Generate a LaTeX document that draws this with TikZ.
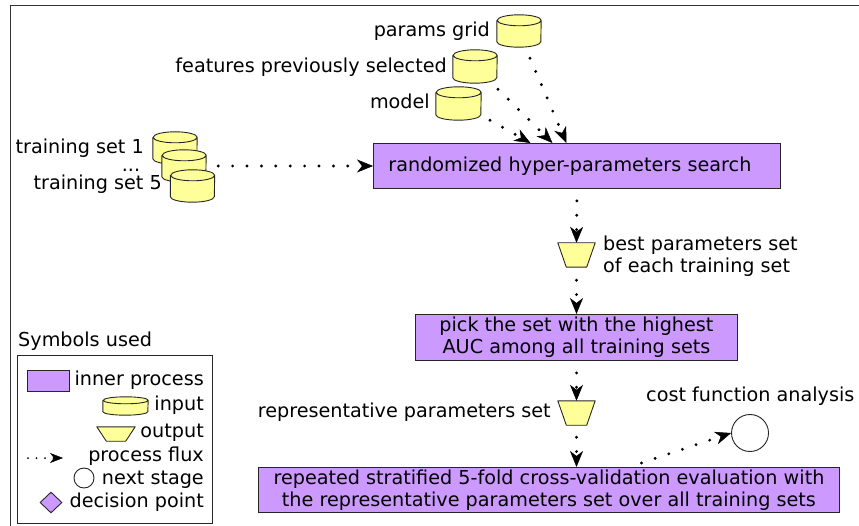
\documentclass[tikz,border=0pt]{standalone}
\usepackage{fontspec}
\setmainfont{DejaVu Sans}
\usetikzlibrary{arrows.meta,shapes.geometric,calc}
\definecolor{procfill}{HTML}{CC99FF}
\definecolor{inputfill}{HTML}{FFFF99}
\tikzset{
  lbl/.style={inner sep=0pt, text height=14pt, text depth=4pt},
  procbox/.style={draw=black!85, line width=0.9pt, fill=procfill, inner sep=0pt, align=center, anchor=north west},
  shapeline/.style={draw=black!85, line width=0.9pt},
  flux/.style={line width=3.2pt, line cap=round, dash pattern=on 0pt off 14.4pt,
    -{Stealth[length=16pt,width=13pt,inset=5pt,line width=0.5pt]}},
}
% #1 name, #2 x, #3 y, #4 width, #5 height, #6 ellipse y radius
\newcommand\dbcyl[6]{%
  \node[inner sep=0pt, minimum width=#4pt, minimum height=#5pt] (#1) at (#2,#3) {};
  \draw[shapeline, fill=inputfill]
    ([yshift=-#6pt]#1.north west) -- ([yshift=#6pt]#1.south west)
    arc[start angle=180, end angle=360, x radius={#4*0.5pt}, y radius=#6pt]
    -- ([yshift=-#6pt]#1.north east)
    arc[start angle=0, end angle=180, x radius={#4*0.5pt}, y radius=#6pt]
    arc[start angle=180, end angle=360, x radius={#4*0.5pt}, y radius=#6pt];
}
% #1 name, #2 x, #3 y, #4 top width, #5 height, #6 inset
\newcommand\outtrap[6]{%
  \node[inner sep=0pt, minimum width=#4pt, minimum height=#5pt] (#1) at (#2,#3) {};
  \draw[shapeline, fill=inputfill, line join=round]
    (#1.north west) -- (#1.north east) -- ([xshift=-#6pt]#1.south east)
    -- ([xshift=#6pt]#1.south west) -- cycle;
}
\begin{document}
\begin{tikzpicture}[x=1pt, y=-1pt, font=\fontsize{19.2}{22}\selectfont]
\useasboundingbox (0,0) rectangle (859,526);
\draw[line width=1pt, black!80] (10,6) rectangle (880,545);

% inputs at top
\node[lbl, anchor=east] (lpg) at (490,32) {params grid};
\node[lbl, anchor=east] (lfs) at (447,67.5) {features previously selected};
\node[lbl, anchor=east] (lmd) at (430,104) {model};
\dbcyl{pg}{519}{31}{44}{32}{5.5}
\dbcyl{fs}{475}{66.5}{44}{33}{5.5}
\dbcyl{md}{458.5}{103.5}{45}{33}{5.5}

% training sets
\node[lbl, anchor=east] (lts1) at (144,149) {training set 1};
\node[inner sep=0pt, anchor=base] (ldots) at (131,172) {...};
\node[lbl, anchor=east] (lts5) at (162,185) {training set 5};
\dbcyl{ts1}{175}{148}{44}{32}{5.5}
\dbcyl{ts2}{184}{166}{44}{32}{5.5}
\dbcyl{ts3}{192.5}{186}{44}{32}{5.5}

% process boxes
\node[procbox, minimum width=407pt, minimum height=45pt, text width=377pt, align=left] (box1) at (373,143) {randomized hyper-parameters search};
\node[procbox, minimum width=322pt, minimum height=46pt] (box2) at (415,314) {pick the set with the highest\\AUC among all training sets};
\node[procbox, minimum width=581pt, minimum height=45pt] (box3) at (258,467) {repeated stratified 5-fold cross-validation evaluation with\\the representative parameters set over all training sets};

% outputs
\outtrap{t1}{576.5}{255}{37}{24}{8.5}
\node[inner sep=0pt, anchor=west, align=left] (lt1) at (603,256) {best parameters set\\of each training set};
\outtrap{t2}{576.5}{413}{37}{24}{8.5}
\node[lbl, anchor=east] (lt2) at (551,412.5) {representative parameters set};

% next stage
\node[circle, shapeline, fill=white, minimum size=37pt, inner sep=0pt] (nextst) at (750,433) {};
\node[lbl, anchor=west] (lns) at (646,396) {cost function analysis};

% connectors
\draw[flux] ([shift={(11,11)}]pg.south) -- ([xshift=-10.5pt]box1.north);
\draw[flux] ([shift={(23,6)}]fs.south) -- ([xshift=-24.5pt]box1.north);
\draw[flux] ([shift={(31.5,0)}]md.south) -- ([xshift=-46.5pt]box1.north);
\draw[flux] ([xshift=12pt]ts2.east) -- (ts2.east -| box1.west);
\draw[flux, shorten <=12pt] (box1.south) -- (t1.north);
\draw[flux, shorten <=13pt] (t1.south) -- (t1.south |- box2.north);
\draw[flux, shorten <=12pt] (t2.north |- box2.south) -- (t2.north);
\draw[flux, shorten <=12pt] (t2.south) -- (t2.south |- box3.north);
\draw[flux] ([shift={(92.5,-4)}]box3.north) -- (nextst.west);

% legend
\node[lbl, anchor=west] (legtitle) at (18,342) {Symbols used};
\node[shapeline, anchor=north west, minimum width=195pt, minimum height=168pt, inner sep=0pt] (legend) at (17,355) {};
\node[procbox, minimum width=42pt, minimum height=21pt] (lgproc) at (27,370) {};
\node[lbl, anchor=east] (lgproct) at (204,380) {inner process};
\dbcyl{lgcyl}{125.5}{406}{45}{18}{3.5}
\node[lbl, anchor=east] (lgcylt) at (204,405) {input};
\outtrap{lgtrap}{116}{434}{38}{14}{9.5}
\node[lbl, anchor=east] (lgtrapt) at (204,432) {output};
\coordinate (lgfl0) at (28,458);
\coordinate (lgfl1) at (63,458);
\draw[line width=2pt, line cap=round, dash pattern=on 0pt off 8.5pt,
  -{Stealth[length=13pt,width=10pt,inset=4pt,line width=0.5pt]}] (lgfl0) -- (lgfl1);
\node[lbl, anchor=east] (lgflt) at (204,456) {process flux};
\node[circle, shapeline, minimum size=20pt, inner sep=0pt] (lgcirc) at (84,478) {};
\node[lbl, anchor=east] (lgcirct) at (204,479) {next stage};
\node[diamond, shapeline, fill=procfill, minimum width=22pt, minimum height=21pt, inner sep=0pt] (lgdiam) at (51,502.5) {};
\node[lbl, anchor=east] (lgdiamt) at (204,502) {decision point};
\end{tikzpicture}
\end{document}
